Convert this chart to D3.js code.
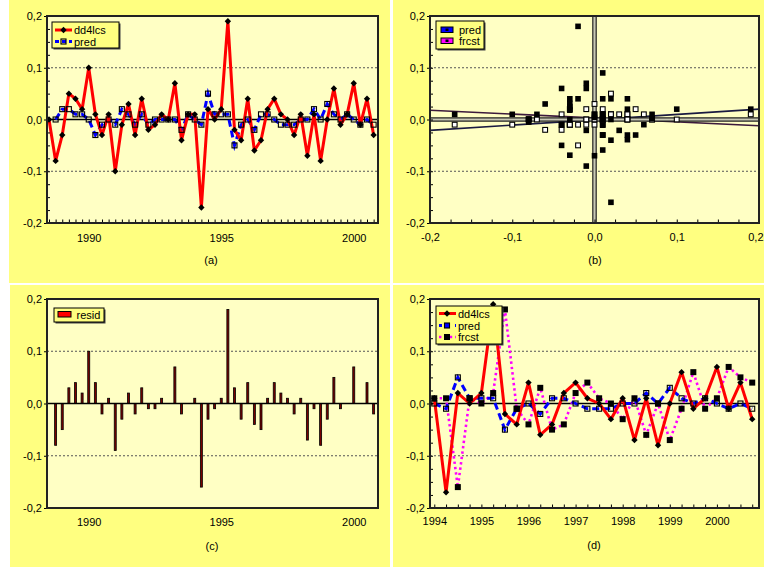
<!DOCTYPE html>
<html>
<head>
<meta charset="utf-8">
<script src="https://cdnjs.cloudflare.com/ajax/libs/d3/7.8.5/d3.min.js"></script>
<style>
  body { margin: 0; background: #fff; }
  svg { display: block; font-family: "Liberation Sans", Arial, sans-serif; }
</style>
</head>
<body>
<svg id="chart" width="764" height="567"></svg>
<script>
// quarterly data, first observation 1988 Q3
const firstQuarter = 1988.5;
const dd4lcs = [0.00, -0.08, -0.03, 0.05, 0.04, 0.02, 0.10, 0.01, -0.03, 0.01,
                -0.10, -0.01, 0.03, -0.03, 0.04, -0.02, -0.01, 0.01, 0.00, 0.07,
                -0.04, 0.01, 0.01, -0.17, 0.02, 0.00, 0.02, 0.19, -0.02, -0.04,
                0.04, -0.06, -0.04, 0.02, 0.04, 0.01, 0.00, -0.03, 0.01, -0.07,
                0.01, -0.08, 0.00, 0.06, -0.01, 0.01, 0.07, -0.01, 0.04, -0.03];
const pred = [null, 0.00, 0.02, 0.02, 0.01, 0.01, 0.00, -0.03, -0.01, 0.00,
              -0.01, 0.02, 0.01, -0.01, 0.01, -0.01, 0.00, 0.00, 0.00, 0.00,
              -0.02, 0.01, 0.00, -0.01, 0.05, 0.01, 0.01, 0.01, -0.05, -0.01,
              0.00, -0.02, 0.01, 0.01, 0.00, -0.01, -0.01, -0.01, 0.00, 0.00,
              0.02, 0.00, 0.03, 0.01, 0.00, 0.01, 0.00, -0.01, 0.00, -0.01];
const resid = [null, -0.08, -0.05, 0.03, 0.04, 0.02, 0.10, 0.04, -0.02, 0.01,
               -0.09, -0.03, 0.02, -0.02, 0.03, -0.01, -0.01, 0.01, 0.00, 0.07,
               -0.02, 0.00, 0.01, -0.16, -0.03, -0.01, 0.01, 0.18, 0.03, -0.03,
               0.04, -0.04, -0.05, 0.01, 0.04, 0.02, 0.01, -0.02, 0.01, -0.07,
               -0.01, -0.08, -0.03, 0.05, -0.01, 0.00, 0.07, 0.00, 0.04, -0.02];

// forecasts, 1994 Q1 .. 2000 Q4
const frcstStart = 1994.0;
const frcst = [0.01, 0.01, -0.16, 0.01, 0.00, 0.02, 0.18, -0.01, -0.04, 0.03,
               -0.05, -0.04, 0.02, 0.04, 0.01, 0.00, -0.03, 0.01, -0.06, 0.00,
               -0.07, -0.01, 0.06, -0.01, 0.01, 0.07, 0.05, 0.04];

// scatter (b): frcst plotted against dd4lcs
const scatterFrcstX = [-0.02, 0.01, -0.04, -0.01, -0.01, -0.02, -0.03, -0.03, -0.03, -0.03,
                       -0.06, 0.01, 0.02, 0.04, 0.04, 0.10, 0.19, -0.17, -0.10, -0.07,
                       -0.08, -0.08, 0.00, 0.00, 0.01, 0.01, 0.01, 0.07, 0.07, 0.06,
                       -0.04, -0.03, -0.01, 0.03, 0.01, 0.04, 0.04, 0.05, 0.02, -0.04,
                       -0.03, 0.01, 0.00, -0.01, 0.02, 0.02];
const scatterFrcstY = [0.18, 0.09, 0.06, 0.07, 0.06, 0.04, 0.04, 0.031, 0.025, 0.018,
                       0.03, 0.04, 0.04, 0.04, 0.02, 0.02, 0.02, 0.01, 0.01, 0.01,
                       0.001, -0.005, 0.01, 0.004, 0.01, 0.00, -0.011, 0.01, 0.002, -0.01,
                       -0.01, 0.00, -0.021, -0.021, -0.03, -0.03, -0.039, -0.03, -0.04, -0.05,
                       -0.069, -0.059, -0.07, -0.09, -0.16, 0.00];
// fitted lines in (b), evaluated at the ends of the x range
const fitX = [-0.2, 0.2];
const fitPredY = [-0.021, 0.020];
const fitFrcstY = [0.018, -0.012];

const valueTicks = [-0.2, -0.1, 0.0, 0.1, 0.2];
const yearTicksFull = [1990, 1995, 2000];
const yearTicksFcst = [1994, 1995, 1996, 1997, 1998, 1999, 2000];
const panelLabels = ["(a)", "(b)", "(c)", "(d)"];

const FONT = "'Liberation Sans', Arial, sans-serif";
const OUTER = "#ffff80", INNER = "#ffffc4";
const fmt = v => v.toFixed(1).replace(".", ",");
const quarterT = i => firstQuarter + i * 0.25;

const svg = d3.select("#chart");
svg.append("rect").attr("width", 764).attr("height", 567).attr("fill", "#fff");

// panel boxes and plot areas [x0, y0, x1, y1]
const panels = [
  { box: [9, 0, 390, 283],   plot: [47, 16, 378, 223],  label: [211, 264] },
  { box: [393, 0, 764, 283], plot: [430, 16, 759, 223], label: [595, 264] },
  { box: [10, 285, 390, 567], plot: [47, 299, 378, 508], label: [212, 550] },
  { box: [393, 285, 764, 567], plot: [430, 299, 759, 508], label: [594, 549] }
];

panels.forEach((p, i) => {
  svg.append("rect")
    .attr("x", p.box[0]).attr("y", p.box[1])
    .attr("width", p.box[2] - p.box[0]).attr("height", p.box[3] - p.box[1])
    .attr("fill", OUTER);
  svg.append("rect")
    .attr("x", p.plot[0]).attr("y", p.plot[1])
    .attr("width", p.plot[2] - p.plot[0]).attr("height", p.plot[3] - p.plot[1])
    .attr("fill", INNER);
  svg.append("text")
    .attr("x", p.label[0]).attr("y", p.label[1])
    .attr("text-anchor", "middle").attr("font-size", 11).attr("font-family", FONT)
    .text(panelLabels[i]);
});

function styleAxis(sel) {
  sel.select(".domain").remove();
  sel.selectAll("text").attr("font-size", 11).attr("fill", "#000").attr("font-family", FONT);
  sel.selectAll("line").attr("stroke", "#000");
}

// grid lines at +-0.1 and the zero line
function drawGrid(p, y, zero) {
  const g = svg.append("g");
  g.selectAll("line.grid")
    .data(valueTicks.filter(v => Math.abs(Math.abs(v) - 0.1) < 1e-9))
    .join("line")
    .attr("x1", p.plot[0]).attr("x2", p.plot[2])
    .attr("y1", d => y(d)).attr("y2", d => y(d))
    .attr("stroke", "#555").attr("stroke-width", 1).attr("stroke-dasharray", "2,2");
  if (zero) {
    g.append("line")
      .attr("x1", p.plot[0]).attr("x2", p.plot[2])
      .attr("y1", y(0)).attr("y2", y(0))
      .attr("stroke", "#000").attr("stroke-width", 1.6);
  }
}

// axes, minor ticks and frame
function drawAxes(p, x, y, xTicks, xFormat, xMinor, yMinor, xPad) {
  const [x0, y0, x1, y1] = p.plot;
  svg.append("g").attr("transform", `translate(${x0},0)`)
    .call(d3.axisLeft(y).tickValues(valueTicks).tickFormat(fmt).tickSizeInner(3).tickSizeOuter(0).tickPadding(2))
    .call(styleAxis);
  if (yMinor) {
    svg.append("g").attr("transform", `translate(${x0},0)`)
      .call(d3.axisLeft(y).tickValues(yMinor).tickFormat("").tickSizeInner(-3).tickSizeOuter(0))
      .call(styleAxis);
  }
  const bottom = svg.append("g").attr("transform", `translate(0,${y1})`)
    .call(d3.axisBottom(x).tickValues(xTicks).tickFormat(xFormat).tickSize(0).tickPadding(xPad))
    .call(styleAxis);
  if (xMinor) {
    svg.append("g").attr("transform", `translate(0,${y1})`)
      .call(d3.axisBottom(x).tickValues(xMinor).tickFormat("").tickSizeInner(-3.5).tickSizeOuter(0))
      .call(styleAxis);
  }
  svg.append("rect")
    .attr("x", x0).attr("y", y0).attr("width", x1 - x0).attr("height", y1 - y0)
    .attr("fill", "none").attr("stroke", "#222").attr("stroke-width", 2);
  return bottom;
}

function legendBox(x, y, w, h) {
  const g = svg.append("g").attr("transform", `translate(${x},${y})`);
  g.append("rect").attr("x", 1.5).attr("y", 1.5).attr("width", w).attr("height", h).attr("fill", "#444");
  g.append("rect").attr("width", w).attr("height", h).attr("fill", OUTER).attr("stroke", "#000").attr("stroke-width", 1);
  return g;
}

const diamond = "M0,-3.2L3.2,0L0,3.2L-3.2,0Z";
const minorValues = d3.range(-0.2, 0.2001, 0.025);

// ---------- (a) actual and fitted ----------
const pa = panels[0];
const xa = d3.scaleLinear().domain([1988.425, 2000.915]).range([pa.plot[0], pa.plot[2]]);
const ya = d3.scaleLinear().domain([-0.2, 0.2]).range([pa.plot[3], pa.plot[1]]);
drawGrid(pa, ya, true);
const lineA = d3.line().defined(d => d.v != null).x(d => xa(d.t)).y(d => ya(d.v));
const ddSeries = dd4lcs.map((v, i) => ({ t: quarterT(i), v }));
const predSeries = pred.map((v, i) => ({ t: quarterT(i), v }));
svg.append("path").datum(predSeries).attr("d", lineA)
  .attr("fill", "none").attr("stroke", "#0000ff").attr("stroke-width", 3).attr("stroke-dasharray", "7,4");
svg.append("path").datum(ddSeries).attr("d", lineA)
  .attr("fill", "none").attr("stroke", "#ff0000").attr("stroke-width", 3).attr("stroke-linejoin", "round");
svg.append("g").selectAll("rect")
  .data(predSeries.filter(d => d.v != null)).join("rect")
  .attr("x", d => xa(d.t) - 2.5).attr("y", d => ya(d.v) - 2.5)
  .attr("width", 5).attr("height", 5)
  .attr("fill", "none").attr("stroke", "#000").attr("stroke-width", 1.1);
svg.append("g").selectAll("path")
  .data(ddSeries).join("path")
  .attr("d", diamond).attr("transform", d => `translate(${xa(d.t)},${ya(d.v)})`)
  .attr("fill", "#000");
drawAxes(pa, xa, ya, yearTicksFull, d3.format("d"),
  d3.range(0, 50).map(quarterT), minorValues, 11);
{
  const g = legendBox(52, 22, 67, 26);
  g.append("line").attr("x1", 3).attr("x2", 20).attr("y1", 8).attr("y2", 8).attr("stroke", "#ff0000").attr("stroke-width", 3);
  g.append("path").attr("d", diamond).attr("transform", "translate(11.5,8)").attr("fill", "#000");
  g.append("text").attr("x", 22).attr("y", 12).attr("font-size", 11).attr("font-family", FONT).text("dd4lcs");
  g.append("line").attr("x1", 3).attr("x2", 20).attr("y1", 19.5).attr("y2", 19.5).attr("stroke", "#0000ff").attr("stroke-width", 3).attr("stroke-dasharray", "4,3");
  g.append("rect").attr("x", 9).attr("y", 17).attr("width", 5).attr("height", 5).attr("fill", "none").attr("stroke", "#000").attr("stroke-width", 1.1);
  g.append("text").attr("x", 22).attr("y", 23.5).attr("font-size", 11).attr("font-family", FONT).text("pred");
}

// ---------- (b) scatter ----------
const pb = panels[1];
const xb = d3.scaleLinear().domain([-0.2, 0.2]).range([pb.plot[0], pb.plot[2]]);
const yb = d3.scaleLinear().domain([-0.2, 0.2]).range([pb.plot[3], pb.plot[1]]);
drawGrid(pb, yb, false);
svg.append("line")
  .attr("x1", xb(fitX[0])).attr("x2", xb(fitX[1])).attr("y1", yb(fitPredY[0])).attr("y2", yb(fitPredY[1]))
  .attr("stroke", "#1a1a40").attr("stroke-width", 1.6);
svg.append("line")
  .attr("x1", xb(fitX[0])).attr("x2", xb(fitX[1])).attr("y1", yb(fitFrcstY[0])).attr("y2", yb(fitFrcstY[1]))
  .attr("stroke", "#3c1a3c").attr("stroke-width", 1.6);
// zero cross
[[xb(0), pb.plot[1], xb(0), pb.plot[3]], [pb.plot[0], yb(0), pb.plot[2], yb(0)]].forEach(c => {
  svg.append("line").attr("x1", c[0]).attr("y1", c[1]).attr("x2", c[2]).attr("y2", c[3])
    .attr("stroke", "#222").attr("stroke-width", 4.6);
  svg.append("line").attr("x1", c[0]).attr("y1", c[1]).attr("x2", c[2]).attr("y2", c[3])
    .attr("stroke", "#c8c8b4").attr("stroke-width", 2.2);
});
const predPairs = dd4lcs.map((v, i) => [v, pred[i]]).filter(d => d[1] != null);
svg.append("g").selectAll("rect")
  .data(predPairs).join("rect")
  .attr("x", d => xb(d[0]) - 2.4).attr("y", d => yb(d[1]) - 2.4)
  .attr("width", 4.8).attr("height", 4.8)
  .attr("fill", "#fff").attr("stroke", "#000").attr("stroke-width", 1.1);
const frcstPairs = scatterFrcstX.map((v, i) => [v, scatterFrcstY[i]]);
svg.append("g").selectAll("rect")
  .data(frcstPairs).join("rect")
  .attr("x", d => xb(d[0]) - 2.8).attr("y", d => yb(d[1]) - 2.8)
  .attr("width", 5.6).attr("height", 5.6)
  .attr("fill", "#000");
const bottomB = drawAxes(pb, xb, yb, valueTicks, fmt, minorValues, minorValues, 10);
// keep the last label inside the picture, as in the original
bottomB.selectAll(".tick:last-of-type text").attr("text-anchor", "end").attr("dx", "4");
{
  const g = legendBox(436, 21, 48, 28);
  [["#0000ff", "pred", 6], ["#ff00ff", "frcst", 17]].forEach(r => {
    g.append("rect").attr("x", 5).attr("y", r[2]).attr("width", 12).attr("height", 5.5)
      .attr("fill", r[0]).attr("stroke", "#000").attr("stroke-width", 1);
    g.append("rect").attr("x", 9.5).attr("y", r[2] + 1.5).attr("width", 3).attr("height", 2.5).attr("fill", "#000");
    g.append("text").attr("x", 23).attr("y", r[2] + 7).attr("font-size", 11).attr("font-family", FONT).text(r[1]);
  });
}

// ---------- (c) residuals ----------
const pc = panels[2];
const xc = d3.scaleLinear().domain([1988.425, 2000.915]).range([pc.plot[0], pc.plot[2]]);
const yc = d3.scaleLinear().domain([-0.2, 0.2]).range([pc.plot[3], pc.plot[1]]);
drawGrid(pc, yc, false);
const residSeries = resid.map((v, i) => ({ t: quarterT(i), v })).filter(d => d.v != null && d.v !== 0);
svg.append("g").selectAll("rect")
  .data(residSeries).join("rect")
  .attr("x", d => xc(d.t) - 1).attr("width", 2)
  .attr("y", d => yc(Math.max(d.v, 0))).attr("height", d => Math.abs(yc(d.v) - yc(0)))
  .attr("fill", "#7a0000").attr("stroke", "#000").attr("stroke-width", 0.8);
svg.append("line")
  .attr("x1", pc.plot[0]).attr("x2", pc.plot[2]).attr("y1", yc(0)).attr("y2", yc(0))
  .attr("stroke", "#000").attr("stroke-width", 1.6);
drawAxes(pc, xc, yc, yearTicksFull, d3.format("d"), null, null, 10.5);
{
  const g = legendBox(54, 308, 50, 14);
  g.append("rect").attr("x", 4).attr("y", 3.5).attr("width", 13).attr("height", 5.5)
    .attr("fill", "#ff0000").attr("stroke", "#000").attr("stroke-width", 1);
  g.append("text").attr("x", 22.5).attr("y", 10.5).attr("font-size", 11).attr("font-family", FONT).text("resid");
}

// ---------- (d) forecast period ----------
const pd = panels[3];
const xd = d3.scaleLinear().domain([1993.909, 2000.894]).range([pd.plot[0], pd.plot[2]]);
const yd = d3.scaleLinear().domain([-0.2, 0.2]).range([pd.plot[3], pd.plot[1]]);
drawGrid(pd, yd, true);
const lineD = d3.line().defined(d => d.v != null).x(d => xd(d.t)).y(d => yd(d.v));
const ddD = ddSeries.filter(d => d.t >= frcstStart);
const predD = predSeries.filter(d => d.t >= frcstStart);
const frcstD = frcst.map((v, i) => ({ t: frcstStart + i * 0.25, v }));
svg.append("path").datum(frcstD).attr("d", lineD)
  .attr("fill", "none").attr("stroke", "#ff00ff").attr("stroke-width", 2.6).attr("stroke-dasharray", "2.4,3");
svg.append("path").datum(predD).attr("d", lineD)
  .attr("fill", "none").attr("stroke", "#0000ff").attr("stroke-width", 3).attr("stroke-dasharray", "7,4");
svg.append("path").datum(ddD).attr("d", lineD)
  .attr("fill", "none").attr("stroke", "#ff0000").attr("stroke-width", 3).attr("stroke-linejoin", "round");
svg.append("g").selectAll("rect")
  .data(frcstD).join("rect")
  .attr("x", d => xd(d.t) - 3).attr("y", d => yd(d.v) - 3)
  .attr("width", 6).attr("height", 6).attr("fill", "#000");
svg.append("g").selectAll("rect")
  .data(predD).join("rect")
  .attr("x", d => xd(d.t) - 2.5).attr("y", d => yd(d.v) - 2.5)
  .attr("width", 5).attr("height", 5)
  .attr("fill", "none").attr("stroke", "#000").attr("stroke-width", 1.1);
svg.append("g").selectAll("path")
  .data(ddD).join("path")
  .attr("d", diamond).attr("transform", d => `translate(${xd(d.t)},${yd(d.v)})`)
  .attr("fill", "#000");
drawAxes(pd, xd, yd, yearTicksFcst, d3.format("d"),
  d3.range(0, 28).map(i => frcstStart + i * 0.25), minorValues, 9.5);
{
  const g = legendBox(436, 306, 66, 38);
  g.append("line").attr("x1", 3).attr("x2", 20).attr("y1", 7.5).attr("y2", 7.5).attr("stroke", "#ff0000").attr("stroke-width", 3);
  g.append("path").attr("d", diamond).attr("transform", "translate(11,7.5)").attr("fill", "#000");
  g.append("text").attr("x", 22).attr("y", 11.5).attr("font-size", 11).attr("font-family", FONT).text("dd4lcs");
  g.append("line").attr("x1", 3).attr("x2", 20).attr("y1", 19.5).attr("y2", 19.5).attr("stroke", "#0000ff").attr("stroke-width", 3).attr("stroke-dasharray", "3,5");
  g.append("rect").attr("x", 8.5).attr("y", 17).attr("width", 5).attr("height", 5).attr("fill", "#0000ff").attr("stroke", "#000").attr("stroke-width", 1.1);
  g.append("text").attr("x", 22).attr("y", 23.5).attr("font-size", 11).attr("font-family", FONT).text("pred");
  g.append("line").attr("x1", 3).attr("x2", 20).attr("y1", 31).attr("y2", 31).attr("stroke", "#ff00ff").attr("stroke-width", 2.6).attr("stroke-dasharray", "2.4,3");
  g.append("rect").attr("x", 8).attr("y", 28).attr("width", 6).attr("height", 6).attr("fill", "#000");
  g.append("text").attr("x", 22).attr("y", 35).attr("font-size", 11).attr("font-family", FONT).text("frcst");
}
</script>
</body>
</html>
